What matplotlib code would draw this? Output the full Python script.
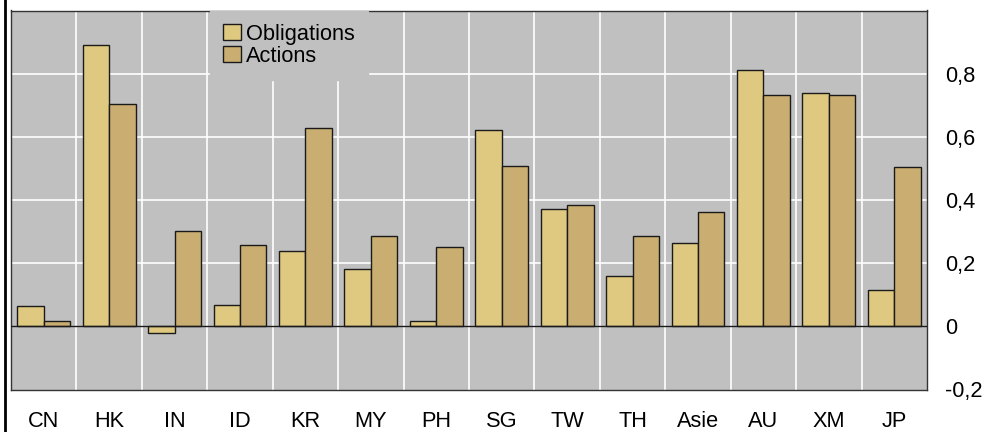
import matplotlib
matplotlib.use("Agg")
import matplotlib.pyplot as plt
import numpy as np
from matplotlib.lines import Line2D

plt.rcParams["font.family"] = ["Liberation Sans", "DejaVu Sans"]

categories = ["CN", "HK", "IN", "ID", "KR", "MY", "PH", "SG", "TW", "TH", "Asie", "AU", "XM", "JP"]
obligations = [0.063, 0.892, -0.022, 0.068, 0.240, 0.183, 0.017, 0.622, 0.372, 0.160, 0.263, 0.811, 0.738, 0.114]
actions = [0.017, 0.704, 0.302, 0.258, 0.628, 0.287, 0.252, 0.508, 0.383, 0.287, 0.361, 0.732, 0.732, 0.503]
series_labels = ["Obligations", "Actions"]
ytick_values = [-0.2, 0.0, 0.2, 0.4, 0.6, 0.8]
ytick_labels = ["-0,2", "0", "0,2", "0,4", "0,6", "0,8"]

BG = "#c0c0c0"
C_OBL = "#dfc980"
C_ACT = "#c9ad71"
FS = 15.7

fig = plt.figure(figsize=(9.88, 4.32), dpi=100)
ax = fig.add_axes([11 / 988, 1 - 389.5 / 432, 916 / 988, 379 / 432])
ax.set_facecolor(BG)

x = np.arange(len(categories))
w = 0.405
ax.bar(x - w / 2, obligations, w, color=C_OBL, edgecolor="#1a1a1a", linewidth=1.0,
       label=series_labels[0], zorder=2)
ax.bar(x + w / 2, actions, w, color=C_ACT, edgecolor="#1a1a1a", linewidth=1.0,
       label=series_labels[1], zorder=2)
ax.axhline(0, color="#1a1a1a", linewidth=1.0, zorder=3)

ax.set_xlim(-0.5, len(categories) - 0.5)
ax.set_ylim(-0.2, 1.0)

# white grid: category separators and 0.2 steps
for b in np.arange(0.5, len(categories) - 0.5, 1.0):
    ax.axvline(b, color="white", linewidth=1.2, zorder=1)
for v in [0.2, 0.4, 0.6, 0.8]:
    ax.axhline(v, color="white", linewidth=1.2, zorder=1)

ax.set_xticks(x)
ax.set_xticklabels(categories, fontsize=FS)
ax.yaxis.tick_right()
ax.set_yticks(ytick_values)
ax.set_yticklabels(ytick_labels, fontsize=FS)
ax.tick_params(axis="both", length=0)
ax.tick_params(axis="x", pad=15.5)
ax.tick_params(axis="y", pad=13)

for s in ax.spines.values():
    s.set_color("#333333")
    s.set_linewidth(1.0)

leg = ax.legend(loc="upper left", bbox_to_anchor=(210 / 988, 1 - 10.5 / 432),
                bbox_transform=fig.transFigure, fontsize=FS, frameon=True,
                facecolor=BG, edgecolor=BG, framealpha=1, fancybox=False,
                handlelength=0.8, handleheight=0.8, handletextpad=0.25,
                labelspacing=0.05, borderpad=0.6, borderaxespad=0)
leg.set_zorder(4)

# thick black line at the left edge of the figure
fig.add_artist(Line2D([5 / 988, 5 / 988], [0, 1], transform=fig.transFigure,
                      color="black", linewidth=2.0))

fig.savefig("out.png", dpi=100)
